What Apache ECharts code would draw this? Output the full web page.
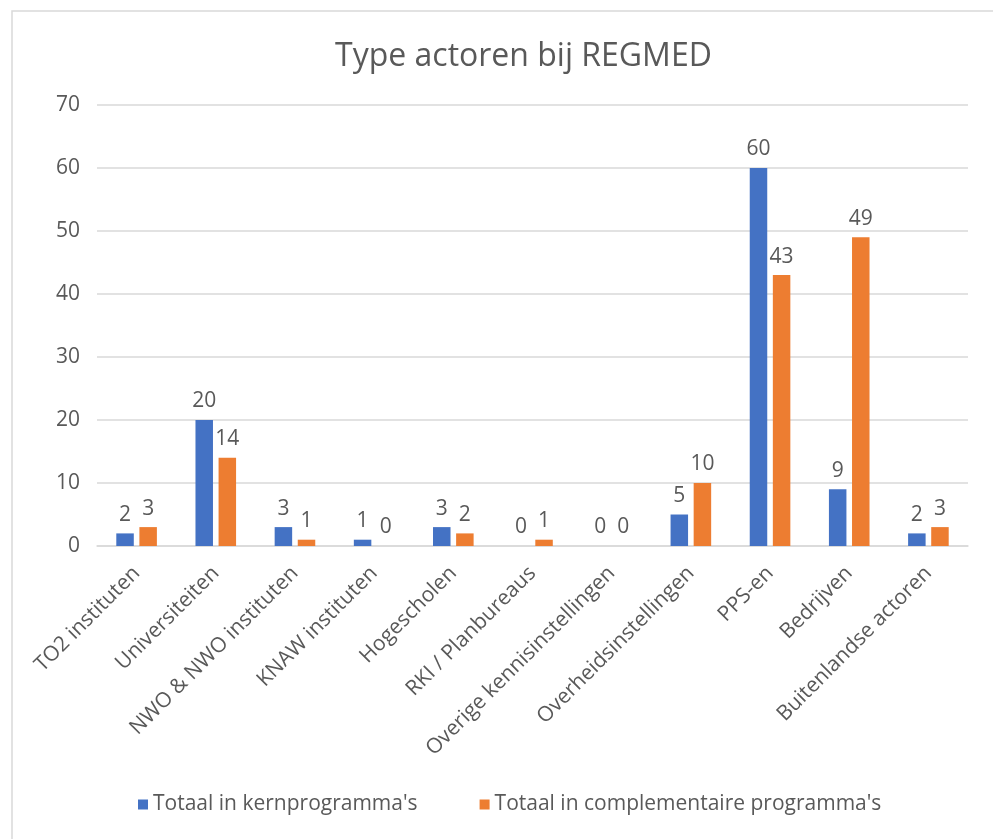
<!DOCTYPE html>
<html>
<head>
<meta charset="utf-8">
<script src="https://cdn.jsdelivr.net/npm/echarts@6/dist/echarts.min.js"></script>
<style>
  html, body { margin: 0; padding: 0; background: #ffffff; }
  #chart { width: 993px; height: 839px; }
</style>
</head>
<body>
<div id="chart"></div>
<script>
// Actor types within the REGMED programme
const categories = [
  'TO2 instituten', 'Universiteiten', 'NWO & NWO instituten', 'KNAW instituten',
  'Hogescholen', 'RKI / Planbureaus', 'Overige kennisinstellingen',
  'Overheidsinstellingen', 'PPS-en', 'Bedrijven', 'Buitenlandse actoren'
];
const kernValues = [2, 20, 3, 1, 3, 0, 0, 5, 60, 9, 2];
const complementairValues = [3, 14, 1, 0, 2, 1, 0, 10, 43, 49, 3];
const seriesNames = ["Totaal in kernprogramma's", "Totaal in complementaire programma's"];
const yTicks = [0, 10, 20, 30, 40, 50, 60, 70];

const FONT = '"Open Sans", "Noto Sans", sans-serif';
const TEXT = '#595959';

const chart = echarts.init(document.getElementById('chart'));

const valueLabel = {
  show: true,
  position: 'top',
  distance: 8,
  color: TEXT,
  fontFamily: FONT,
  fontSize: 21
};

chart.setOption({
  animation: false,
  backgroundColor: '#ffffff',
  graphic: [{
    type: 'rect',
    shape: { x: 12, y: 11, width: 1000, height: 900 },
    style: { fill: 'none', stroke: '#d9d9d9', lineWidth: 1.5 },
    silent: true
  }],
  title: {
    text: 'Type actoren bij REGMED',
    left: 330,
    top: 36,
    textStyle: { color: TEXT, fontFamily: FONT, fontSize: 32, fontWeight: 'normal' }
  },
  legend: {
    top: 789,
    left: 133,
    itemWidth: 10,
    itemHeight: 10,
    itemGap: 62,
    icon: 'rect',
    textStyle: { color: TEXT, fontFamily: FONT, fontSize: 21 },
    data: seriesNames
  },
  grid: { left: 97, right: 25, top: 105, bottom: 293, containLabel: false },
  xAxis: {
    type: 'category',
    data: categories,
    axisTick: { show: false },
    axisLine: { lineStyle: { color: '#d9d9d9', width: 1.5 } },
    axisLabel: {
      rotate: 45,
      margin: 24,
      interval: 0,
      color: TEXT,
      fontFamily: FONT,
      fontSize: 21
    }
  },
  yAxis: {
    type: 'value',
    min: yTicks[0],
    max: yTicks[yTicks.length - 1],
    interval: 10,
    axisLine: { show: false },
    axisTick: { show: false },
    splitLine: { lineStyle: { color: '#d9d9d9', width: 1.5 } },
    axisLabel: { margin: 17, color: TEXT, fontFamily: FONT, fontSize: 21 }
  },
  series: [
    {
      name: seriesNames[0],
      type: 'bar',
      data: kernValues,
      barWidth: 17.5,
      barGap: '32%',
      itemStyle: { color: '#4472C4' },
      label: valueLabel
    },
    {
      name: seriesNames[1],
      type: 'bar',
      data: complementairValues,
      barWidth: 17.5,
      itemStyle: { color: '#ED7D31' },
      label: valueLabel
    }
  ]
});
</script>
</body>
</html>
